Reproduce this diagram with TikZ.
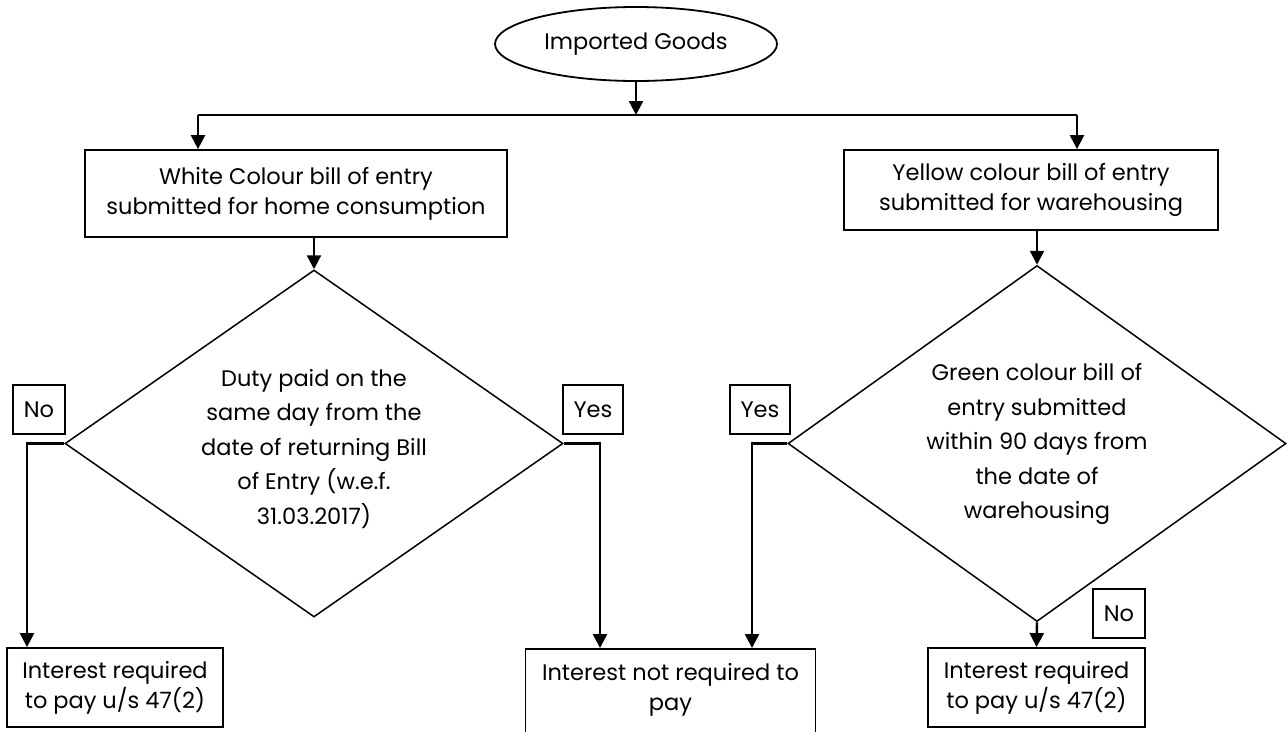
\documentclass[tikz,border=0pt]{standalone}
\usepackage{fontspec}
\setmainfont{Poppins}
\usetikzlibrary{shapes.geometric,arrows.meta}
\tikzset{
  boxnode/.style={draw,line width=1.8pt,rectangle,inner sep=0pt,align=center,
    font=\fontsize{22.5}{30}\selectfont},
  boxtext/.style={inner sep=0pt,align=center,font=\fontsize{22.5}{30}\selectfont},
  tagnode/.style={draw,line width=1.8pt,rectangle,inner sep=0pt,
    font=\fontsize{22.5}{26}\selectfont},
  dianode/.style={draw,line width=1.5pt,diamond,inner sep=0pt,aspect=1.4},
  diatext/.style={align=center,font=\fontsize{22.5}{34.5}\selectfont},
  conn/.style={line width=2.4pt},
  arr/.style={conn,-{Triangle[width=14pt,length=14pt]}}
}
\begin{document}
\begin{tikzpicture}[x=1pt,y=-1pt]
\useasboundingbox (0,0) rectangle (1287,731);
\clip (0,0) rectangle (1287,731);
% start
\node[draw,line width=1.8pt,ellipse,minimum width=282pt,minimum height=74pt,inner sep=0pt,
  font=\fontsize{22.5}{26}\selectfont] (ell) at (636,44) {Imported Goods};
% boxes
\node[boxnode,minimum width=422pt,minimum height=87pt] (wbox) at (296,193.5)
  {White Colour bill of entry\\submitted for home consumption};
\node[boxnode,minimum width=374pt,minimum height=80pt] (ybox) at (1031,190)
  {Yellow colour bill of entry\\submitted for warehousing};
% decisions
\node[dianode,minimum width=498pt,minimum height=347pt] (d1) at (314,443.5) {};
\node[diatext] (t1) at (314,449) {Duty paid on the\\same day from the\\date of returning Bill\\of Entry (w.e.f.\\31.03.2017)};
\node[dianode,minimum width=498pt,minimum height=356pt] (d2) at (1037,443.5) {};
\node[diatext] (t2) at (1037,444) {Green colour bill of\\entry submitted\\within 90 days from\\the date of\\warehousing};
% outcomes
\node[boxnode,minimum width=216pt,minimum height=79pt] (bl) at (115,687.5)
  {Interest required\\to pay u/s 47(2)};
\node[boxnode,minimum width=290pt,minimum height=86pt,anchor=north] (bm) at (670.5,648) {};
\node[boxtext] (bmt) at (670.5,690) {Interest not required to\\pay};
\node[boxnode,minimum width=217pt,minimum height=79pt] (br) at (1036.5,687.5)
  {Interest required\\to pay u/s 47(2)};
% tags
\node[tagnode,minimum width=52pt,minimum height=49pt] (no1) at (39,409.5) {No};
\node[tagnode,minimum width=60pt,minimum height=49pt] (yes1) at (593,409.5) {Yes};
\node[tagnode,minimum width=60pt,minimum height=49pt] (yes2) at (760,409.5) {Yes};
\node[tagnode,minimum width=52pt,minimum height=49pt] (no2) at (1119,613.5) {No};
% connectors
\coordinate (barL) at (198,115);
\coordinate (barR) at (1077,115);
\coordinate (xa) at (27,0);
\coordinate (xb) at (600,0);
\coordinate (xc) at (752,0);
\draw[arr] (ell.south) -- (ell.south |- barL);
\draw[conn] (barL) -- (barR);
\draw[arr] (barL) -- (barL |- wbox.north);
\draw[arr] (barR) -- (barR |- ybox.north);
\draw[arr] (d1.north |- wbox.south) -- (d1.north);
\draw[arr] (d2.north |- ybox.south) -- (d2.north);
\draw[arr] (d1.west) -| (xa |- bl.north);
\draw[arr] (d1.east) -| (xb |- bm.north);
\draw[arr] (d2.west) -| (xc |- bm.north);
\draw[arr] (d2.south) -- (br.north);
\end{tikzpicture}
\end{document}
